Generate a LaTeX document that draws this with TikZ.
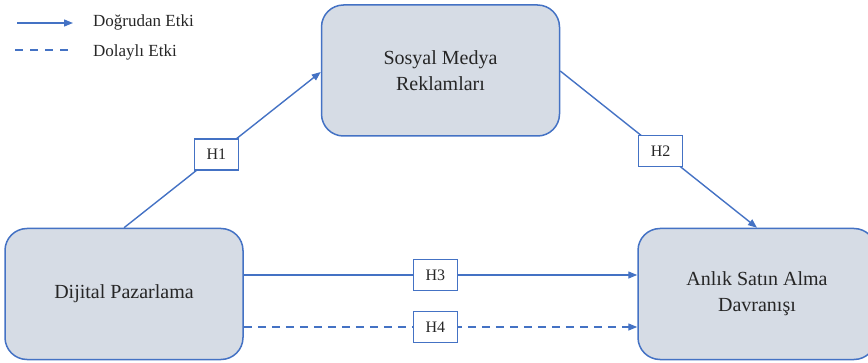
\documentclass[tikz,border=0pt]{standalone}
\usepackage{fontspec}
\setmainfont{Liberation Serif}
\usetikzlibrary{arrows.meta}
\definecolor{lineblue}{HTML}{4472C4}
\definecolor{boxfill}{HTML}{D6DCE5}
\tikzset{
  conbox/.style={draw=lineblue, line width=1.5pt, fill=boxfill, rounded corners=22pt,
    minimum width=238pt, minimum height=131pt, align=center, inner sep=0pt,
    font=\fontsize{20}{26}\selectfont, text=black!85},
  hbox/.style={draw=lineblue, solid, line width=1.3pt, fill=white, minimum width=44pt,
    minimum height=31pt, inner sep=0pt, font=\fontsize{16}{18}\selectfont, text=black!85},
  conn/.style={draw=lineblue, line width=1.4pt, -{Triangle[length=9pt,width=7pt]}},
  dashconn/.style={conn, dash pattern=on 8pt off 6pt},
  legtext/.style={anchor=west, inner sep=0pt, font=\fontsize{17}{19}\selectfont, text=black!85}
}
\begin{document}
\begin{tikzpicture}[x=1pt,y=1pt]
\clip (0,0) rectangle (868,362);
\useasboundingbox (0,0) rectangle (868,362);
% boxes
\node[conbox] (sm) at (440.5,291.5) {Sosyal Medya\\Reklamları};
\node[conbox] (dp) at (124,68) {Dijital Pazarlama};
\node[conbox] (an) at (757,68) {Anlık Satın Alma\\Davranışı};
% connectors
\coordinate (smw) at ([yshift=-1.5pt]sm.west);
\coordinate (sme) at ([yshift=-0.5pt]sm.east);
\draw[conn] (dp.north) -- (smw) node[hbox, pos=0.47] (h1) {H1};
\draw[conn] (sme) -- (an.north) node[hbox, pos=0.51] (h2) {H2};
\draw[conn] (dp.east |- 0,87) -- (an.west |- 0,87) node[hbox, pos=0.487] (h3) {H3};
\draw[dashconn] (dp.east |- 0,35) -- (an.west |- 0,35) node[hbox, pos=0.487] (h4) {H4};
% legend
\coordinate (l1a) at (17,339);
\coordinate (l1b) at (73,339);
\coordinate (l2a) at (15,312);
\coordinate (l2b) at (71,312);
\draw[conn] (l1a) -- (l1b);
\draw[draw=lineblue, line width=1.4pt, dash pattern=on 8pt off 7pt] (l2a) -- (l2b);
\node[legtext] (lt1) at (93,340) {Doğrudan Etki};
\node[legtext] (lt2) at (93,310) {Dolaylı Etki};
\end{tikzpicture}
\end{document}
